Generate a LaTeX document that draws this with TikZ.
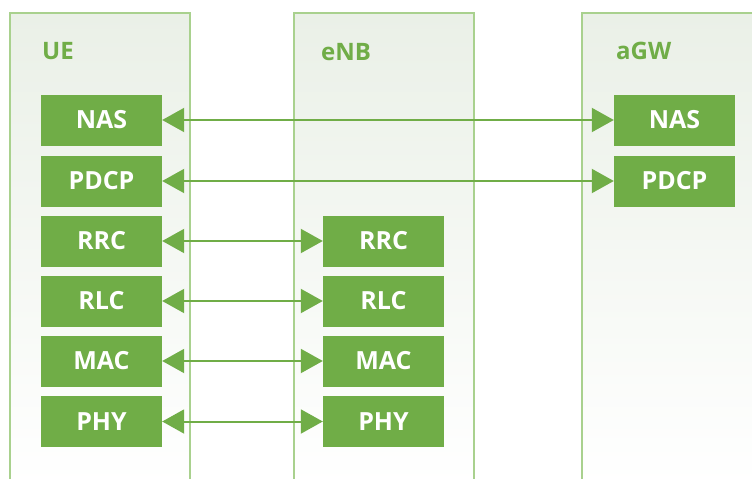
\documentclass[tikz,border=0pt]{standalone}
\usepackage{fontspec}
\setmainfont{Open Sans}
\usetikzlibrary{arrows.meta}
\definecolor{lg}{HTML}{70AD47}
\definecolor{colborder}{HTML}{A9D18E}
\definecolor{colfill}{HTML}{EAF0E7}
\tikzset{
  layer/.style={fill=lg, minimum width=121pt, minimum height=51pt, inner sep=0pt,
    text=white, font=\fontsize{25}{28}\selectfont\bfseries},
  coltitle/.style={text=lg, font=\fontsize{24}{28}\selectfont\bfseries, anchor=west, inner sep=0pt},
  colpath/.style={draw=colborder, line width=1.2pt, top color=colfill, bottom color=white},
  link/.style={draw=lg, line width=2pt, {Triangle[length=22pt,width=24pt]}-{Triangle[length=22pt,width=24pt]}}
}
\begin{document}
\begin{tikzpicture}[x=1pt,y=-1pt]
\useasboundingbox (0,0) rectangle (752,479);
% columns
\path[colpath] (10,485) -- (10,13) -- (190,13) -- (190,485);
\path[colpath] (294,485) -- (294,13) -- (474,13) -- (474,485);
\path[colpath] (582,485) -- (582,13) -- (770,13) -- (770,485);
\node[coltitle] (tUE) at (42,51) {UE};
\node[coltitle] (tENB) at (321,52) {eNB};
\node[coltitle] (tAGW) at (616,51) {aGW};
% UE stack
\node[layer] (uNAS) at (101.5,120) {NAS};
\node[layer] (uPDCP) at (101.5,181) {PDCP};
\node[layer] (uRRC) at (101.5,241) {RRC};
\node[layer] (uRLC) at (101.5,301) {RLC};
\node[layer] (uMAC) at (101.5,361) {MAC};
\node[layer] (uPHY) at (101.5,421.5) {PHY};
% eNB stack
\node[layer] (eRRC) at (383.5,241) {RRC};
\node[layer] (eRLC) at (383.5,301) {RLC};
\node[layer] (eMAC) at (383.5,361) {MAC};
\node[layer] (ePHY) at (383.5,421.5) {PHY};
% aGW stack
\node[layer] (aNAS) at (674.5,120) {NAS};
\node[layer] (aPDCP) at (674.5,181) {PDCP};
% links
\draw[link] (uNAS) -- (aNAS);
\draw[link] (uPDCP) -- (aPDCP);
\draw[link] (uRRC) -- (eRRC);
\draw[link] (uRLC) -- (eRLC);
\draw[link] (uMAC) -- (eMAC);
\draw[link] (uPHY) -- (ePHY);
\end{tikzpicture}
\end{document}
